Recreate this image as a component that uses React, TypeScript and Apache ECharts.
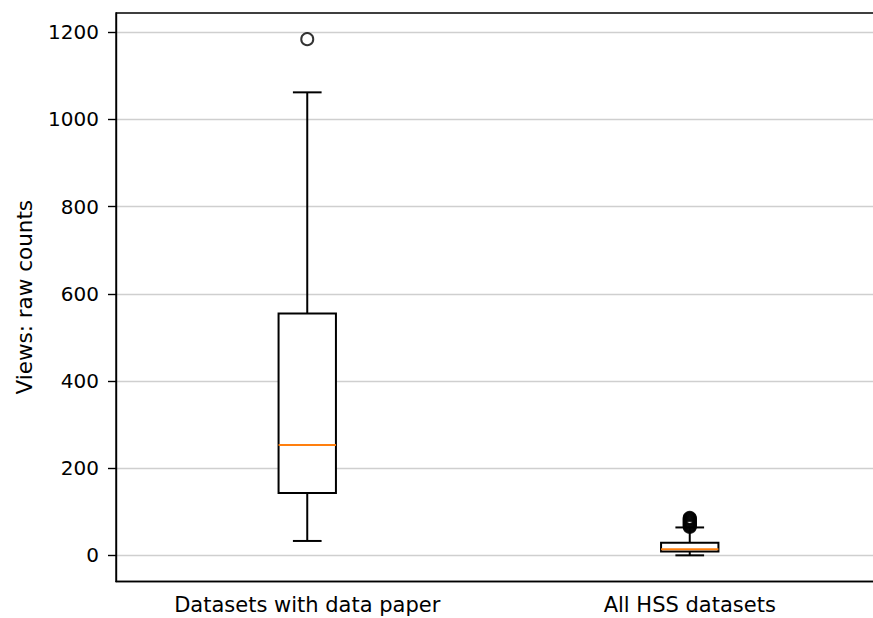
import React, { useEffect, useRef } from "react";
import * as echarts from "echarts";

const categories = ["Datasets with data paper", "All HSS datasets"];
// [whiskerLow, Q1, median, Q3, whiskerHigh]
const boxStats = [
  [33, 143, 253, 555, 1062],
  [0, 9, 14, 29, 64],
];
const outliersPaper = [1184];
const outliersAll = [65, 67, 69, 71, 73, 75, 77, 79, 81, 83, 85, 86];
const yTicks = [0, 200, 400, 600, 800, 1000, 1200];

export default function App() {
  const ref = useRef<HTMLDivElement>(null);
  useEffect(() => {
    if (!ref.current) return;
    const chart = echarts.init(ref.current, null, { renderer: "svg" });
    const font = "DejaVu Sans";
    const boxData = boxStats.map((s, i) => [i, ...s]);
    const outlierData: any[] = [];
    outliersPaper.forEach((v) => outlierData.push([0, v]));
    outliersAll.forEach((v) => outlierData.push([1, v]));
    chart.setOption({
      animation: false,
      grid: {
        left: 116,
        top: 13,
        bottom: 36.5,
        right: 3,
        show: true,
        borderColor: "#000",
        borderWidth: 1.4,
        backgroundColor: "transparent",
      },
      xAxis: {
        type: "category",
        data: categories,
        boundaryGap: true,
        axisLine: { onZero: false, lineStyle: { color: "#000", width: 1.4 } },
        axisTick: { alignWithLabel: true, length: 8, lineStyle: { color: "#000", width: 1.4 } },
        axisLabel: { color: "#000", fontSize: 21, fontFamily: font, margin: 13 },
        splitLine: { show: false },
      },
      yAxis: {
        type: "value",
        min: -60,
        max: 1244,
        name: "Views: raw counts",
        nameLocation: "middle",
        nameGap: 81,
        nameTextStyle: { color: "#000", fontSize: 21.5, fontFamily: font },
        axisLine: { show: true, lineStyle: { color: "#000", width: 1.4 } },
        axisTick: { show: true, length: 8, customValues: yTicks, lineStyle: { color: "#000", width: 1.4 } },
        axisLabel: {
          color: "#000",
          fontSize: 20,
          fontFamily: font,
          margin: 17,
          customValues: yTicks,
          formatter: (v: number) => String(v),
        },
        splitLine: { show: true, lineStyle: { color: "#cfcfcf", width: 1.3 } },
      },
      series: [
        {
          type: "custom",
          data: boxData,
          encode: { x: 0, y: [1, 2, 3, 4, 5] },
          renderItem: (params: any, api: any) => {
            const xi = api.value(0);
            const band = api.size([1, 0])[0];
            const bw = band * 0.15;
            const cw = bw / 2;
            const pLo = api.coord([xi, api.value(1)]);
            const pQ1 = api.coord([xi, api.value(2)]);
            const pMed = api.coord([xi, api.value(3)]);
            const pQ3 = api.coord([xi, api.value(4)]);
            const pHi = api.coord([xi, api.value(5)]);
            const cx = pQ1[0];
            const stroke = { stroke: "#000", lineWidth: 2, fill: "none" };
            return {
              type: "group",
              children: [
                { type: "line", shape: { x1: cx, y1: pQ1[1], x2: cx, y2: pLo[1] }, style: stroke },
                { type: "line", shape: { x1: cx, y1: pQ3[1], x2: cx, y2: pHi[1] }, style: stroke },
                { type: "line", shape: { x1: cx - cw / 2, y1: pLo[1], x2: cx + cw / 2, y2: pLo[1] }, style: stroke },
                { type: "line", shape: { x1: cx - cw / 2, y1: pHi[1], x2: cx + cw / 2, y2: pHi[1] }, style: stroke },
                {
                  type: "rect",
                  shape: { x: cx - bw / 2, y: pQ3[1], width: bw, height: pQ1[1] - pQ3[1] },
                  style: { stroke: "#000", lineWidth: 2, fill: "#fff" },
                },
                {
                  type: "line",
                  shape: { x1: cx - bw / 2, y1: pMed[1], x2: cx + bw / 2, y2: pMed[1] },
                  style: { stroke: "#ff7f0e", lineWidth: 2 },
                },
              ],
            };
          },
          z: 3,
        },
        {
          type: "scatter",
          data: outlierData,
          symbol: "circle",
          symbolSize: 12,
          itemStyle: { color: "transparent", borderColor: "#000", borderWidth: 2 },
          z: 4,
        },
      ],
    });
    return () => chart.dispose();
  }, []);
  return (
    <div style={{ width: 873, height: 618, position: "absolute", left: 0, top: 0, overflow: "hidden", background: "#fff" }}>
      <div ref={ref} style={{ width: 884, height: 618 }} />
    </div>
  );
}
